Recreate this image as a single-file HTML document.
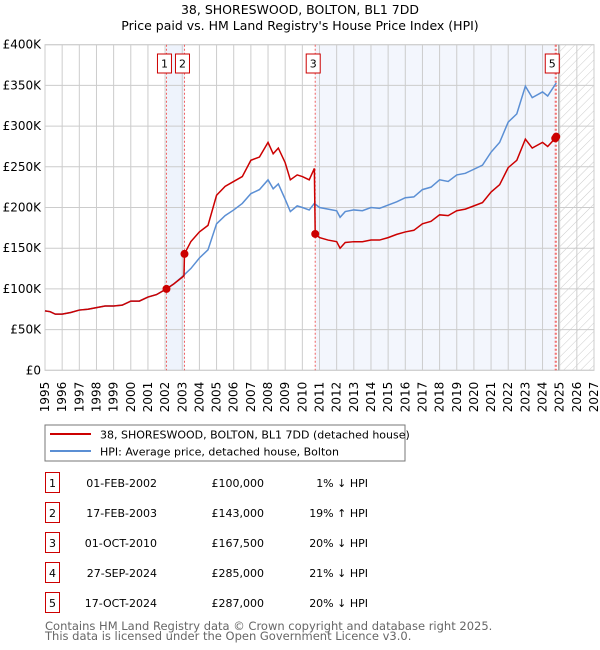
<!DOCTYPE html>
<html><head><meta charset="utf-8">
<style>
body{margin:0;background:#fff;font-family:"Liberation Sans","DejaVu Sans",sans-serif;}
#wrap{position:relative;width:600px;height:650px;overflow:hidden;}
svg text{font-family:"DejaVu Sans","Liberation Sans",sans-serif;}
</style></head>
<body>
<div id="wrap">
<svg id="chart" width="600" height="650" xmlns="http://www.w3.org/2000/svg">
<defs>
<pattern id="hatch" width="6" height="6" patternUnits="userSpaceOnUse" patternTransform="rotate(45)">
<line x1="0" y1="0" x2="0" y2="6" stroke="#ccc" stroke-width="1"/>
</pattern>
</defs>
<text x="300" y="14" text-anchor="middle" font-size="12.5" fill="#000">38, SHORESWOOD, BOLTON, BL1 7DD</text>
<text x="300" y="30" text-anchor="middle" font-size="12.5" fill="#000">Price paid vs. HM Land Registry's House Price Index (HPI)</text>
<g id="plot"></g>
<rect x="45" y="425" width="360" height="36" fill="#fff" stroke="#777"/>
<line x1="50" y1="434" x2="91" y2="434" stroke="#cc0000" stroke-width="2"/>
<text x="100" y="438.5" font-size="11">38, SHORESWOOD, BOLTON, BL1 7DD (detached house)</text>
<line x1="50" y1="451" x2="91" y2="451" stroke="#5b8fd4" stroke-width="2"/>
<text x="100" y="455.5" font-size="11">HPI: Average price, detached house, Bolton</text>
<g id="table"></g>
<text x="45" y="630" font-size="11.5" fill="#666">Contains HM Land Registry data © Crown copyright and database right 2025.</text>
<text x="45" y="640" font-size="11.5" fill="#666">This data is licensed under the Open Government Licence v3.0.</text>
</svg>
</div>
<script>
const yearTicks=[1995,1996,1997,1998,1999,2000,2001,2002,2003,2004,2005,2006,2007,2008,2009,2010,2011,2012,2013,2014,2015,2016,2017,2018,2019,2020,2021,2022,2023,2024,2025,2026,2027];
const priceTicks=[0,50,100,150,200,250,300,350,400];
const priceTickLabels=["£0","£50K","£100K","£150K","£200K","£250K","£300K","£350K","£400K"];
const hpiT=[1995,1995.3,1995.6,1996,1996.5,1997,1997.5,1998,1998.5,1999,1999.5,2000,2000.5,2001,2001.5,2002,2002.5,2003,2003.5,2004,2004.5,2005,2005.5,2006,2006.5,2007,2007.5,2008,2008.3,2008.6,2009,2009.3,2009.7,2010,2010.4,2010.7,2011,2011.5,2012,2012.2,2012.5,2013,2013.5,2014,2014.5,2015,2015.5,2016,2016.5,2017,2017.5,2018,2018.5,2019,2019.5,2020,2020.5,2021,2021.5,2022,2022.5,2023,2023.4,2024,2024.3,2024.8];
const hpiV=[73,72,69,69,71,74,75,77,79,79,80,85,85,90,93,99,106,115,125,138,148,180,190,197,205,217,222,234,223,229,210,195,202,200,197,205,200,198,196,188,195,197,196,200,199,203,207,212,213,222,225,234,232,240,242,247,252,268,280,305,315,349,335,342,337,353];
const redT=[1995,1995.3,1995.6,1996,1996.5,1997,1997.5,1998,1998.5,1999,1999.5,2000,2000.5,2001,2001.5,2002.08,2002.5,2003.1,2003.13,2003.5,2004,2004.5,2005,2005.5,2006,2006.5,2007,2007.5,2008,2008.3,2008.6,2009,2009.3,2009.7,2010,2010.4,2010.7,2010.75,2011,2011.5,2012,2012.2,2012.5,2013,2013.5,2014,2014.5,2015,2015.5,2016,2016.5,2017,2017.5,2018,2018.5,2019,2019.5,2020,2020.5,2021,2021.5,2022,2022.5,2023,2023.4,2024,2024.3,2024.74,2024.8,2024.95];
const redV=[73,72,69,69,71,74,75,77,79,79,80,85,85,90,93,100,106,116,143,158,170,178,215,226,232,238,258,262,280,266,273,255,234,240,238,234,248,167.5,163,160,158,150,157,158,158,160,160,163,167,170,172,180,183,191,190,196,198,202,206,219,228,249,258,284,273,280,275,285,287,286];
const saleT=[2002.08,2003.13,2010.75,2024.74,2024.8];
const saleV=[100,143,167.5,285,287];
const saleLabels=["1","2","3","4","5"];
const saleDates=["01-FEB-2002","17-FEB-2003","01-OCT-2010","27-SEP-2024","17-OCT-2024"];
const salePrices=["£100,000","£143,000","£167,500","£285,000","£287,000"];
const saleHpi=["1% ↓ HPI","19% ↑ HPI","20% ↓ HPI","21% ↓ HPI","20% ↓ HPI"];

const X0=45,X1=594,Y0=370.3,Y1=44.7;
const xS=t=>X0+(t-1995)/(2027-1995)*(X1-X0);
const yS=v=>Y0-v/400*(Y0-Y1);
const NS="http://www.w3.org/2000/svg";
const plot=document.getElementById('plot');
function mk(tag,attrs,parent){const e=document.createElementNS(NS,tag);for(const k in attrs)e.setAttribute(k,attrs[k]);(parent||plot).appendChild(e);return e;}

mk('rect',{x:X0,y:Y1,width:X1-X0,height:Y0-Y1,fill:'#fff'});
let r=mk('rect',{x:xS(saleT[0]),y:Y1,width:xS(saleT[1])-xS(saleT[0]),height:Y0-Y1,fill:'#eef3fc'});


r=mk('rect',{x:xS(saleT[2]),y:Y1,width:xS(saleT[4])-xS(saleT[2]),height:Y0-Y1,fill:'#f3f6fd'});


r=mk('rect',{x:xS(2025),y:Y1,width:X1-xS(2025),height:Y0-Y1,fill:'url(#hatch)'});



yearTicks.forEach(y=>{
  mk('line',{x1:xS(y),x2:xS(y),y1:Y1,y2:Y0,stroke:'#ccc','stroke-width':1});
  const t=mk('text',{x:0,y:0,'font-size':12,transform:`translate(${xS(y)+4},${Y0+42}) rotate(-90)`});
  t.textContent=y;
  
  
});
priceTicks.forEach((v,i)=>{
  mk('line',{x1:X0,x2:X1,y1:yS(v),y2:yS(v),stroke:'#ccc','stroke-width':1});
  const t=mk('text',{x:X0-4,y:yS(v)+4,'font-size':12,'text-anchor':'end'});
  t.textContent=priceTickLabels[i];
  
  
});
mk('rect',{x:X0,y:Y1,width:X1-X0,height:Y0-Y1,fill:'none',stroke:'#ccc'});
mk('line',{x1:xS(2025)-1,x2:xS(2025)-1,y1:Y1,y2:Y0,stroke:'#999','stroke-width':1});

saleT.forEach((t,i)=>{
  const l=mk('line',{x1:xS(t),x2:xS(t),y1:Y1,y2:Y0,stroke:'#f06060','stroke-width':1,'stroke-dasharray':'2,2'});
  
  
});

const hp=mk('polyline',{points:hpiT.map((t,i)=>xS(t)+','+yS(hpiV[i])).join(' '),fill:'none',stroke:'#5b8fd4','stroke-width':1.5});


const rp=mk('polyline',{points:redT.map((t,i)=>xS(t)+','+yS(redV[i])).join(' '),fill:'none',stroke:'#cc0000','stroke-width':1.5});



saleT.forEach((t,i)=>{
  const c=mk('circle',{cx:xS(t),cy:yS(saleV[i]),r:4,fill:'#cc0000'});
  
  
});
[0,1,2,4].forEach(i=>{
  const g=mk('g',{});
  
  
  const x=(i===4)?xS(saleT[i])-11:xS(saleT[i])-9;
  mk('rect',{x:x,y:54,width:14,height:19,fill:'#fff',stroke:'#cc0000'},g);
  const tt=mk('text',{x:x+7,y:67.5,'font-size':11,'text-anchor':'middle'},g);
  tt.textContent=saleLabels[i];
});

const tbl=document.getElementById('table');
saleLabels.forEach((lab,i)=>{
  const cy=483+i*30;
  const g=mk('g',{},tbl);
  
  
  mk('rect',{x:45.5,y:cy-10.5,width:14,height:20,fill:'none',stroke:'#cc0000'},g);
  const a=mk('text',{x:52.5,y:cy+4,'font-size':11,'text-anchor':'middle'},g);a.textContent=lab;
  const d=mk('text',{x:157,y:cy+4,'font-size':11,'text-anchor':'end'},g);d.textContent=saleDates[i];
  const p=mk('text',{x:264,y:cy+4,'font-size':11,'text-anchor':'end'},g);p.textContent=salePrices[i];
  const h=mk('text',{x:368,y:cy+4,'font-size':11,'text-anchor':'end'},g);h.textContent=saleHpi[i];
});
</script>
</body></html>
